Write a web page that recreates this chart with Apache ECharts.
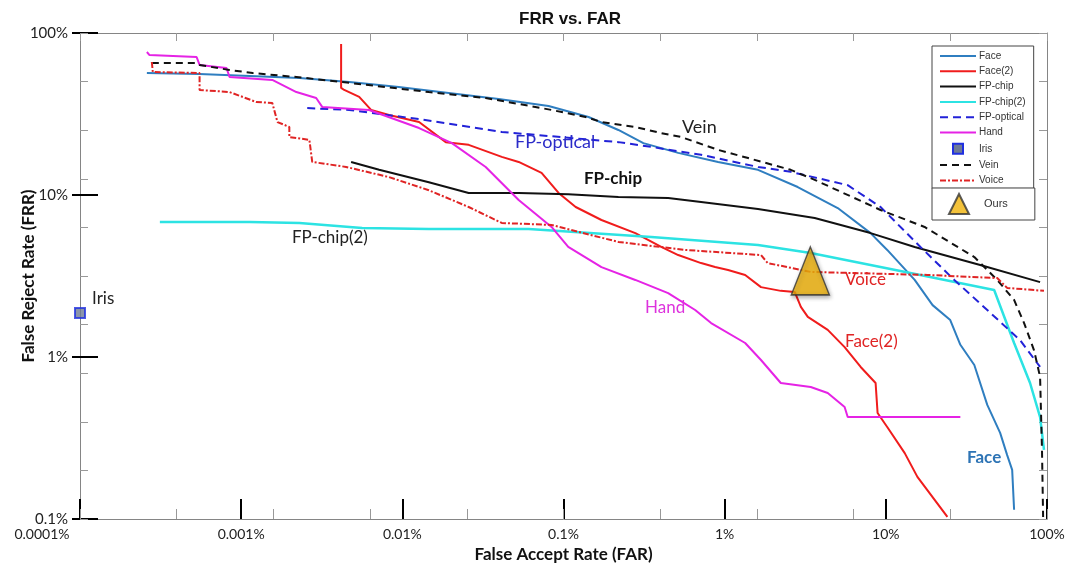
<!DOCTYPE html>
<html>
<head>
<meta charset="utf-8">
<script src="https://cdn.jsdelivr.net/npm/echarts@6/dist/echarts.min.js"></script>
<style>
html,body{margin:0;padding:0;background:#fff;}
#chart{width:1075px;height:571px;}
</style>
</head>
<body>
<div id="chart"></div>
<script>
// ---- data (FAR %, FRR %) ----
const xTickLabels = ['0.0001%','0.001%','0.01%','0.1%','1%','10%','100%'];
const yTickLabels = ['0.1%','1%','10%','100%'];

const face = [[0.00026,56.6],[0.00055,55.8],[0.00113,54.3],[0.0023,52.8],[0.0047,49.8],[0.0095,46.4],[0.0194,42.6],[0.0396,39.1],[0.0808,35.4],[0.143,30.3],[0.219,25.2],[0.313,20.9],[0.515,18.2],[0.91,16.0],[1.61,14.3],[2.84,11.2],[5.03,8.31],[8.04,5.82],[10.2,4.58],[15.1,2.99],[19.5,2.09],[25.1,1.69],[29.0,1.19],[35.4,0.893],[42.6,0.506],[51.2,0.340],[56.6,0.248],[60.8,0.201],[62.5,0.114]];
const face2 = [[0.00417,85.5],[0.00417,45.8],[0.00436,44.5],[0.0054,40.3],[0.0064,33.5],[0.00827,31.2],[0.0127,28.2],[0.0186,21.2],[0.0258,20.4],[0.0414,17.2],[0.0527,16.0],[0.0731,13.7],[0.0932,10.3],[0.119,8.43],[0.172,7.01],[0.279,5.82],[0.404,4.78],[0.515,4.26],[0.714,3.80],[0.872,3.59],[1.05,3.44],[1.34,3.21],[1.68,2.70],[2.23,2.56],[2.72,2.52],[2.97,2.04],[3.28,1.77],[4.36,1.47],[5.55,1.15],[6.98,0.868],[8.64,0.691],[8.89,0.451],[10.2,0.370],[13.1,0.255],[15.7,0.182],[24.1,0.103]];
const fpChip = [[0.00481,16.0],[0.00718,14.3],[0.0146,12.0],[0.0258,10.3],[0.0527,10.3],[0.107,10.1],[0.219,9.72],[0.446,9.58],[0.714,9.05],[1.61,8.20],[3.62,7.21],[8.04,5.82],[15.1,4.78],[38.5,3.70],[90.6,2.90]];
const fpChip2 = [[0.000313,6.81],[0.00113,6.81],[0.0023,6.72],[0.00563,6.26],[0.0146,6.17],[0.0608,6.17],[0.351,5.51],[1.61,4.92],[3.42,4.39],[14.2,3.30],[47.0,2.59],[62.5,1.22],[78.5,0.691],[90.6,0.426],[95.8,0.267]];
const fpOptical = [[0.00257,34.4],[0.00468,33.5],[0.0127,29.4],[0.0414,24.5],[0.0671,23.5],[0.219,21.2],[0.351,19.8],[0.714,17.7],[1.61,14.9],[2.57,13.9],[5.80,11.5],[9.27,8.43],[16.4,4.78],[26.6,2.99],[42.6,1.95],[68.1,1.27],[90.6,0.868]];
const hand = [[0.00026,76.3],[0.00027,73.1],[0.000529,71.1],[0.000552,63.5],[0.000811,60.8],[0.000847,53.5],[0.00156,51.3],[0.0022,43.2],[0.00292,39.7],[0.00319,34.9],[0.00622,33.5],[0.0127,25.9],[0.0203,20.9],[0.0329,14.9],[0.0527,9.31],[0.0843,6.35],[0.107,4.78],[0.172,3.59],[0.279,2.99],[0.446,2.48],[0.656,1.95],[0.824,1.62],[1.34,1.22],[1.68,0.958],[2.23,0.691],[3.42,0.653],[4.36,0.600],[5.55,0.491],[5.80,0.426],[18.1,0.426],[29.0,0.426]];
const iris = [[0.0001,1.87]];
const vein = [[0.000279,65.3],[0.000529,65.3],[0.000552,63.5],[0.000847,59.1],[0.00118,56.6],[0.0022,53.5],[0.00424,49.8],[0.0146,43.2],[0.0329,39.7],[0.0843,33.5],[0.137,30.3],[0.172,28.2],[0.279,26.3],[0.404,24.1],[0.537,22.8],[0.91,19.0],[1.40,16.9],[2.57,14.3],[3.62,12.4],[9.27,8.08],[17.4,6.35],[35.4,4.14],[49.1,2.99],[62.5,2.25],[72.1,1.62],[83.1,1.10],[90.6,0.753],[93.1,0.267],[94.6,0.103]];
const voice = [[0.000279,66.2],[0.000283,57.4],[0.000552,56.6],[0.000552,44.5],[0.000847,43.2],[0.00124,37.5],[0.00156,37.0],[0.00168,28.2],[0.00199,26.3],[0.00199,22.8],[0.00265,21.9],[0.00276,16.0],[0.00448,14.9],[0.00827,12.9],[0.0146,10.7],[0.0258,8.43],[0.0414,6.72],[0.0843,6.53],[0.219,5.13],[0.569,4.58],[1.68,4.26],[1.85,3.80],[3.42,3.35],[18.1,3.21],[49.1,3.07],[56.6,2.67],[95.8,2.56]];
const ours = [[3.4,3.4]];

const seriesNames = ['Face','Face(2)','FP-chip','FP-chip(2)','FP-optical','Hand','Iris','Vein','Voice'];
const minorTickCount = 10;

const FONT = 'Lato, "Open Sans", sans-serif';
const chart = echarts.init(document.getElementById('chart'));

function lineSeries(name, data, color, type, width) {
  return {
    name, type: 'line', data, symbol: 'none', showSymbol: false,
    lineStyle: { color, width: width || 2, type: type || 'solid' },
    itemStyle: { color },
    xAxisIndex: 0, yAxisIndex: 0, z: 3, animation: false
  };
}

const grayAxis = '#858585';

const option = {
  animation: false,
  backgroundColor: '#ffffff',
  title: {
    text: 'FRR vs. FAR', left: 565, top: 6, textAlign: 'center',
    textStyle: { fontFamily: 'Liberation Sans, Arial, sans-serif', fontSize: 17, fontWeight: 'bold', color: '#111' }
  },
  grid: { left: 80, right: 28, top: 33, bottom: 52, containLabel: false, outerBoundsMode: 'none' },
  legend: [
    {
      data: seriesNames.map(n => n === 'Iris'
        ? { name: n, icon: 'path://M0,0 L10,0 L10,10 L0,10 Z', itemStyle: { opacity: 1, color: '#6E7A95', borderColor: '#1F2FE0', borderWidth: 2 } }
        : n),
      orient: 'vertical', left: 932, top: 46,
      itemWidth: 36, itemHeight: 10, itemGap: 5.3,
      padding: [5, 8, 3, 7],
      itemStyle: { opacity: 0 },
      borderColor: '#444', borderWidth: 1, backgroundColor: '#fff',
      textStyle: { fontFamily: 'Liberation Sans, Arial, sans-serif', fontSize: 10, color: '#333', padding: [0, 0, 0, -2] },
      selectedMode: false
    },
    {
      data: ['Ours'], orient: 'vertical', left: 932, top: 188,
      itemWidth: 20, itemHeight: 20, itemGap: 0,
      padding: [5, 27, 5, 16],
      borderColor: '#444', borderWidth: 1, backgroundColor: '#fff',
      textStyle: { fontFamily: 'Liberation Sans, Arial, sans-serif', fontSize: 11, color: '#333', padding: [0, 0, 0, 10] },
      selectedMode: false
    }
  ],
  xAxis: [
    {
      type: 'log', logBase: 10, min: 0.0001, max: 100, position: 'bottom',
      axisLine: { show: true, lineStyle: { color: grayAxis, width: 1 } },
      axisTick: { show: true, inside: true, length: 20, lineStyle: { color: '#000', width: 2 } },
      splitLine: { show: false }, minorTick: { show: false },
      axisLabel: {
        margin: 8, color: '#222', fontFamily: FONT, fontSize: 14,
        formatter: v => {
          const i = Math.round(Math.log10(v)) + 4;
          return i === 0 ? '{first|' + xTickLabels[i] + '}' : xTickLabels[i];
        },
        rich: { first: { fontFamily: FONT, fontSize: 14, color: '#222', padding: [0, 76, 0, 0] } }
      },
      name: 'False Accept Rate (FAR)', nameLocation: 'middle', nameGap: 27, nameMoveOverlap: false,
      nameTextStyle: { fontFamily: FONT, fontSize: 17, fontWeight: 'bold', color: '#111' }
    },
    {
      type: 'value', min: 0, max: minorTickCount, interval: 1, position: 'bottom',
      axisLine: { show: false }, axisLabel: { show: false }, splitLine: { show: false },
      axisTick: { show: true, inside: true, length: 10, lineStyle: { color: '#999', width: 1 } }
    },
    {
      type: 'value', min: 0, max: minorTickCount, interval: 1, position: 'top',
      axisLine: { show: true, lineStyle: { color: grayAxis, width: 1 } },
      axisLabel: { show: false }, splitLine: { show: false },
      axisTick: { show: true, inside: true, length: 8, lineStyle: { color: '#999', width: 1 } }
    }
  ],
  yAxis: [
    {
      type: 'log', logBase: 10, min: 0.1, max: 100, position: 'left',
      axisLine: { show: true, lineStyle: { color: grayAxis, width: 1 } },
      axisTick: { show: true, inside: false, length: 8, lineStyle: { color: '#000', width: 2 } },
      splitLine: { show: false }, minorTick: { show: false },
      axisLabel: {
        margin: 12, color: '#222', fontFamily: FONT, fontSize: 15,
        formatter: v => yTickLabels[Math.round(Math.log10(v)) + 1]
      },
      name: 'False Reject Rate (FRR)', nameLocation: 'middle', nameGap: 43, nameRotate: 90, nameMoveOverlap: false,
      nameTextStyle: { fontFamily: FONT, fontSize: 17, fontWeight: 'bold', color: '#111' }
    },
    {
      type: 'log', logBase: 10, min: 0.1, max: 100, position: 'left',
      axisLine: { show: false }, axisLabel: { show: false }, splitLine: { show: false },
      axisTick: { show: true, inside: true, length: 18, lineStyle: { color: '#000', width: 2 } }
    },
    {
      type: 'value', min: 0, max: minorTickCount, interval: 1, position: 'left',
      axisLine: { show: false }, axisLabel: { show: false }, splitLine: { show: false },
      axisTick: { show: true, inside: true, length: 8, lineStyle: { color: '#999', width: 1 } }
    },
    {
      type: 'value', min: 0, max: minorTickCount, interval: 1, position: 'right',
      axisLine: { show: true, lineStyle: { color: grayAxis, width: 1 } },
      axisLabel: { show: false }, splitLine: { show: false },
      axisTick: { show: true, inside: true, length: 8, lineStyle: { color: '#999', width: 1 } }
    }
  ],
  series: [
    lineSeries('Face', face, '#2F7EC0', 'solid', 2),
    lineSeries('Face(2)', face2, '#F01C1C', 'solid', 2),
    lineSeries('FP-chip', fpChip, '#111111', 'solid', 2),
    lineSeries('FP-chip(2)', fpChip2, '#2CE3E3', 'solid', 2.5),
    lineSeries('FP-optical', fpOptical, '#2222D8', [8, 5], 2),
    lineSeries('Hand', hand, '#E523E5', 'solid', 2),
    {
      name: 'Iris', type: 'scatter', data: iris, symbol: 'rect', symbolSize: 10,
      itemStyle: { color: '#6E7A95', borderColor: '#1F2FE0', borderWidth: 2 }, z: 5, animation: false
    },
    lineSeries('Vein', vein, '#111111', [7, 5], 2),
    lineSeries('Voice', voice, '#E02424', [6, 2, 2, 2], 2),
    {
      name: 'Ours', type: 'scatter', data: ours, symbol: 'triangle', symbolSize: [38, 48],
      itemStyle: { color: '#F0B30A', borderColor: '#333', borderWidth: 1.5, shadowColor: 'rgba(0,0,0,0.35)', shadowBlur: 4, shadowOffsetX: 1, shadowOffsetY: 2 },
      z: 10, animation: false
    }
  ],
  graphic: [
    { type: 'text', left: 682, top: 118, z: 20, style: { text: 'Vein', fontFamily: FONT, fontSize: 18, fill: '#222' } },
    { type: 'text', left: 515, top: 133, z: 20, style: { text: 'FP-optical', fontFamily: FONT, fontSize: 18, fill: '#2B2BC8' } },
    { type: 'text', left: 584, top: 170, z: 20, style: { text: 'FP-chip', fontFamily: FONT, fontSize: 17, fontWeight: 'bold', fill: '#111' } },
    { type: 'text', left: 292, top: 229, z: 20, style: { text: 'FP-chip(2)', fontFamily: FONT, fontSize: 17, fill: '#222' } },
    { type: 'text', left: 92, top: 290, z: 20, style: { text: 'Iris', fontFamily: FONT, fontSize: 17, fill: '#222' } },
    { type: 'text', left: 645, top: 299, z: 20, style: { text: 'Hand', fontFamily: FONT, fontSize: 17, fill: '#DD33DD' } },
    { type: 'text', left: 845, top: 271, z: 20, style: { text: 'Voice', fontFamily: FONT, fontSize: 17, fill: '#E02424' } },
    { type: 'text', left: 845, top: 333, z: 20, style: { text: 'Face(2)', fontFamily: FONT, fontSize: 17, fill: '#E02424' } },
    { type: 'text', left: 967, top: 449, z: 20, style: { text: 'Face', fontFamily: FONT, fontSize: 17, fontWeight: 'bold', fill: '#2E74B5' } }
  ]
};
chart.setOption(option);
</script>
</body>
</html>
